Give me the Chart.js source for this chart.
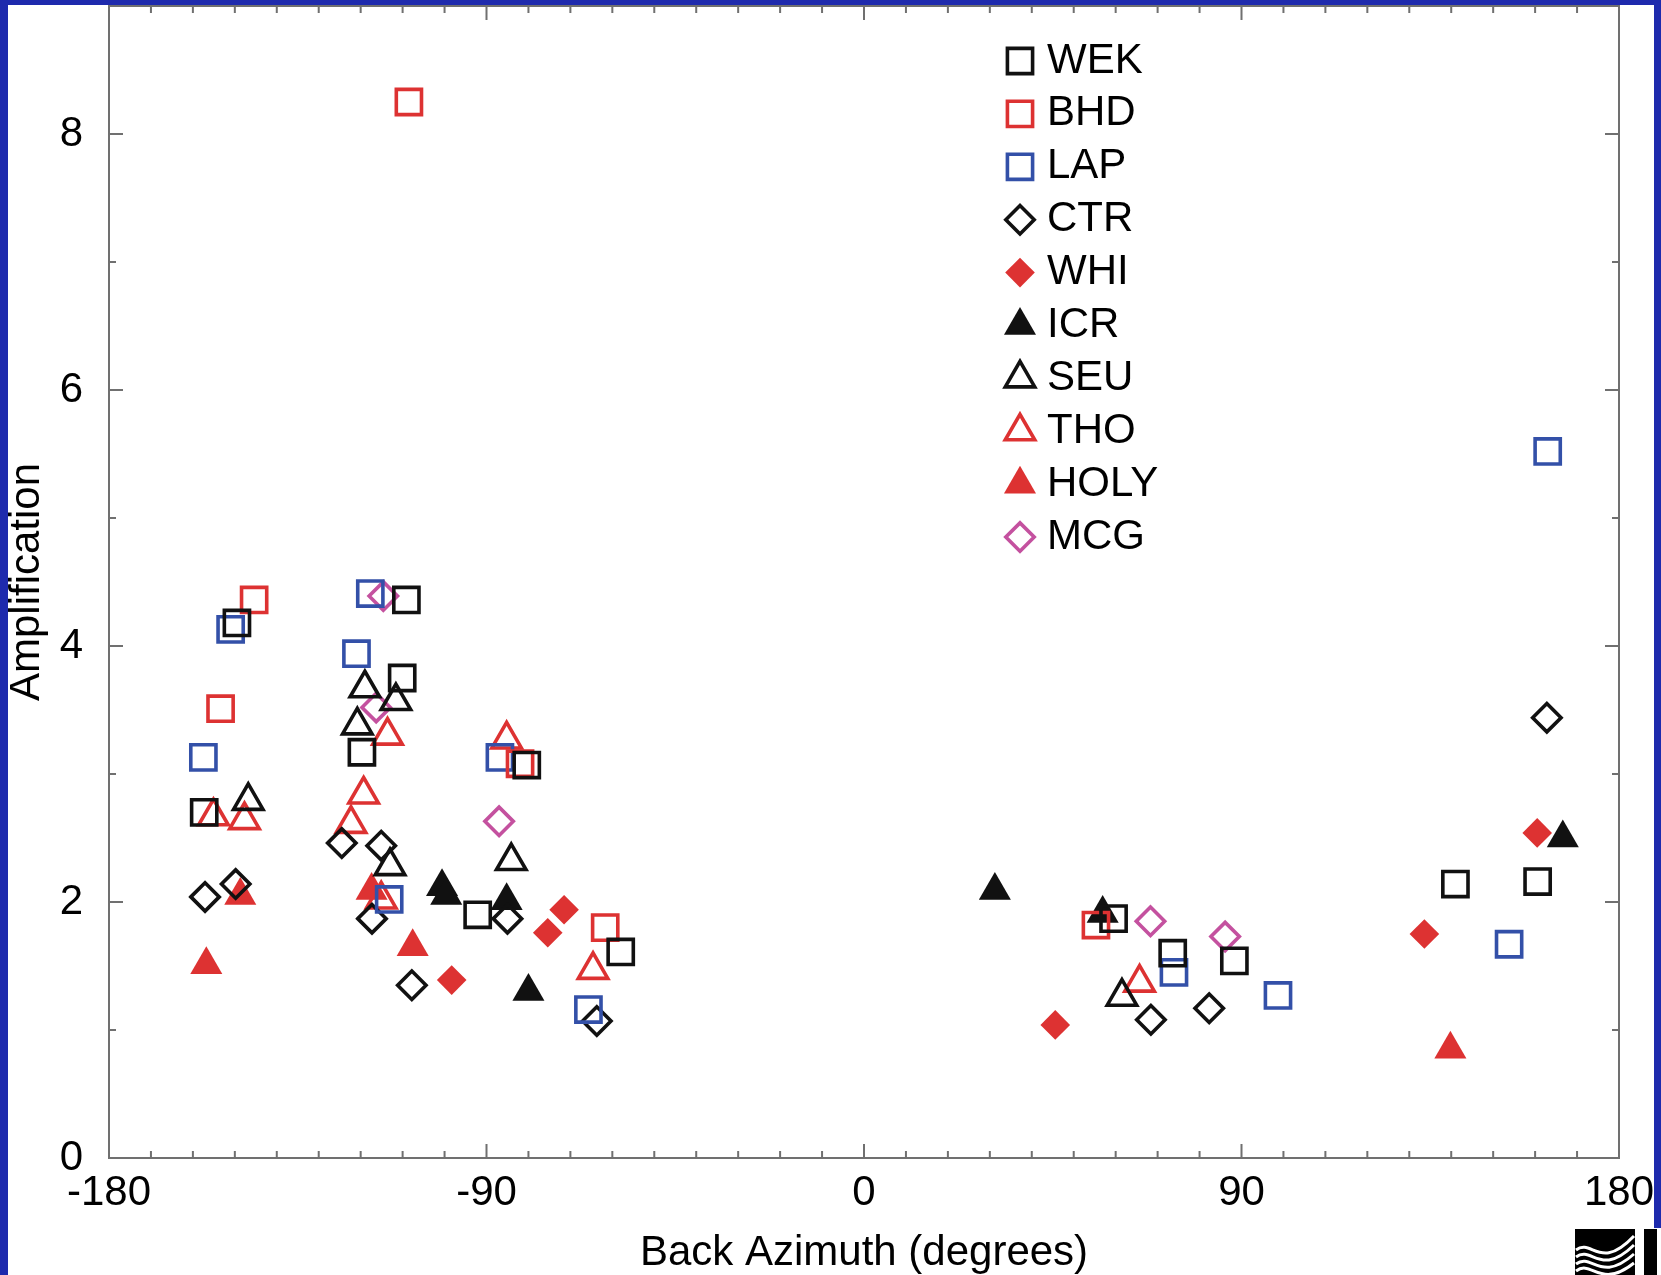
<!DOCTYPE html>
<html>
<head>
<meta charset="utf-8">
<title>Amplification vs Back Azimuth</title>
<script src="https://cdn.jsdelivr.net/npm/chart.js@4.4.1/dist/chart.umd.min.js"></script>
<style>
  html, body { margin: 0; padding: 0; background: #fff; }
  #wrap { width: 1661px; height: 1275px; position: relative; }
</style>
</head>
<body>
<div id="wrap"><canvas id="ampChart"></canvas></div>
<script>
// [back azimuth (deg), amplification] per station
const WEK = [[-157.3, 2.70], [-149.5, 4.18], [-119.7, 3.17], [-110.1, 3.75], [-109.1, 4.36],
  [-92.1, 1.90], [-80.4, 3.07], [-58.0, 1.61], [59.5, 1.87], [73.6, 1.60], [88.3, 1.54],
  [141.0, 2.14], [160.6, 2.16]];
const BHD = [[-153.4, 3.51], [-145.4, 4.36], [-108.5, 8.25], [-82.0, 3.08], [-61.7, 1.80], [55.3, 1.82]];
const LAP = [[-157.5, 3.13], [-151.0, 4.13], [-121.0, 3.94], [-117.7, 4.41], [-113.2, 2.02],
  [-86.8, 3.13], [-65.7, 1.16], [73.9, 1.45], [98.7, 1.27], [153.8, 1.67], [163.0, 5.52]];
const CTR = [[-157.1, 2.04], [-149.8, 2.14], [-124.5, 2.46], [-115.1, 2.44], [-117.3, 1.87],
  [-107.8, 1.35], [-85.0, 1.87], [-63.7, 1.07], [68.4, 1.08], [82.3, 1.17], [162.8, 3.44]];
const WHI = [[-98.3, 1.39], [-75.4, 1.76], [-71.5, 1.94], [45.6, 1.04], [133.6, 1.75], [160.5, 2.54]];
const ICR = [[-100.6, 2.12], [-99.6, 2.05], [-85.2, 2.01], [-80.0, 1.30], [31.2, 2.09], [56.9, 1.91], [166.6, 2.50]];
const SEU = [[-146.8, 2.79], [-119.0, 3.67], [-111.6, 3.57], [-120.8, 3.38], [-113.0, 2.28], [-84.1, 2.32], [61.5, 1.26]];
const THO = [[-155.1, 2.67], [-147.7, 2.64], [-119.3, 2.84], [-122.3, 2.61], [-113.6, 3.30],
  [-115.1, 2.02], [-85.2, 3.27], [-64.6, 1.47], [65.7, 1.37]];
const HOLY = [[-156.8, 1.51], [-148.7, 2.05], [-117.4, 2.09], [-107.6, 1.65], [139.8, 0.85]];
const MCG = [[-114.6, 4.39], [-116.3, 3.52], [-87.0, 2.63], [68.3, 1.85], [86.1, 1.73]];

const xTicks = [-180, -90, 0, 90, 180];
const yTicks = [0, 2, 4, 6, 8];

const BLACK = "#111111";
const RED = "#dd3232";
const BLUE = "#3350a8";
const PINK = "#c4519f";
const FONT = "'Liberation Sans', Arial, Helvetica, sans-serif";

const stations = [
  { label: "WEK", data: WEK, shape: "rect", color: BLACK, filled: false },
  { label: "BHD", data: BHD, shape: "rect", color: RED, filled: false },
  { label: "LAP", data: LAP, shape: "rect", color: BLUE, filled: false },
  { label: "CTR", data: CTR, shape: "rectRot", color: BLACK, filled: false },
  { label: "WHI", data: WHI, shape: "rectRot", color: RED, filled: true },
  { label: "ICR", data: ICR, shape: "triangle", color: BLACK, filled: true },
  { label: "SEU", data: SEU, shape: "triangle", color: BLACK, filled: false },
  { label: "THO", data: THO, shape: "triangle", color: RED, filled: false },
  { label: "HOLY", data: HOLY, shape: "triangle", color: RED, filled: true },
  { label: "MCG", data: MCG, shape: "rectRot", color: PINK, filled: false },
];

function markerRadius(s) {
  if (s.shape === "rect") return 17.8;
  if (s.shape === "rectRot") return s.filled ? 14.8 : 14.2;
  return s.filled ? 18.5 : 17;
}

const datasets = stations.map((s) => ({
  label: s.label,
  data: s.data.map((p) => ({ x: p[0], y: p[1] })),
  showLine: false,
  pointStyle: s.shape,
  pointRadius: markerRadius(s),
  pointHoverRadius: markerRadius(s),
  pointBorderWidth: s.filled ? 0 : 3.6,
  pointHoverBorderWidth: s.filled ? 0 : 3.6,
  pointBorderColor: s.color,
  pointBackgroundColor: s.filled ? s.color : "rgba(0,0,0,0)",
}));

// white page with the blue slide border, plus the logo in the corner
const pagePlugin = {
  id: "page",
  beforeDraw(chart) {
    const ctx = chart.ctx;
    ctx.save();
    ctx.fillStyle = "#ffffff";
    ctx.fillRect(0, 0, chart.width, chart.height);
    ctx.fillStyle = "#1e2aad";
    ctx.fillRect(0, 0, 8, chart.height);
    ctx.fillRect(0, 0, chart.width, 5);
    ctx.fillRect(1654, 0, 7, 1228);
    ctx.restore();
  },
  afterDraw(chart) {
    const ctx = chart.ctx;
    ctx.save();
    ctx.fillStyle = "#000";
    ctx.fillRect(1575, 1229, 60, 46);
    ctx.fillRect(1644, 1229, 13, 46);
    ctx.strokeStyle = "#fff";
    ctx.lineWidth = 3;
    for (let k = 0; k < 4; k++) {
      ctx.beginPath();
      ctx.moveTo(1576, 1250 + k * 7);
      ctx.bezierCurveTo(1592, 1238 + k * 7, 1600, 1272 + k * 6, 1634, 1236 + k * 9);
      ctx.stroke();
    }
    ctx.restore();
  },
};

// boxed frame with inward ticks on all four sides
const framePlugin = {
  id: "frame",
  afterDatasetsDraw(chart) {
    const { ctx, chartArea: a, scales } = chart;
    const xs = scales.x, ys = scales.y;
    ctx.save();
    ctx.strokeStyle = "#707070";
    ctx.lineWidth = 2;
    ctx.strokeRect(a.left, a.top, a.right - a.left, a.bottom - a.top);
    ctx.beginPath();
    for (let v = -170; v < 180; v += 10) {
      const len = v % 90 === 0 ? 14 : 7;
      const px = xs.getPixelForValue(v);
      ctx.moveTo(px, a.bottom); ctx.lineTo(px, a.bottom - len);
      ctx.moveTo(px, a.top); ctx.lineTo(px, a.top + len);
    }
    for (let v = 1; v <= 8; v++) {
      const len = v % 2 === 0 ? 14 : 7;
      const py = ys.getPixelForValue(v);
      ctx.moveTo(a.left, py); ctx.lineTo(a.left + len, py);
      ctx.moveTo(a.right, py); ctx.lineTo(a.right - len, py);
    }
    ctx.stroke();
    ctx.restore();
  },
};

// legend inside the plot, one row per station
const legendPlugin = {
  id: "stationLegend",
  afterDraw(chart) {
    const ctx = chart.ctx;
    const mx = 1020, tx = 1047, y0 = 61, dy = 52.9;
    ctx.save();
    ctx.font = "42px " + FONT;
    ctx.textBaseline = "middle";
    ctx.textAlign = "left";
    chart.data.datasets.forEach((ds, i) => {
      const y = y0 + i * dy;
      ctx.fillStyle = ds.pointBackgroundColor;
      ctx.strokeStyle = ds.pointBorderColor;
      ctx.lineWidth = ds.pointBorderWidth;
      Chart.helpers.drawPoint(ctx, {
        pointStyle: ds.pointStyle,
        radius: ds.pointRadius,
        rotation: 0,
        borderWidth: ds.pointBorderWidth,
      }, mx, y);
      ctx.fillStyle = "#000";
      ctx.fillText(ds.label, tx, y);
    });
    ctx.restore();
  },
};

new Chart(document.getElementById("ampChart"), {
  type: "scatter",
  data: { datasets },
  plugins: [pagePlugin, framePlugin, legendPlugin],
  options: {
    responsive: true,
    maintainAspectRatio: false,
    animation: false,
    layout: { autoPadding: false, padding: { left: 0, right: 42, top: 6, bottom: 0 } },
    plugins: { legend: { display: false }, tooltip: { enabled: false } },
    scales: {
      x: {
        type: "linear",
        min: -180,
        max: 180,
        grid: { display: false, drawTicks: false },
        border: { display: false },
        afterBuildTicks: (s) => { s.ticks = xTicks.map((v) => ({ value: v })); },
        ticks: { padding: 10, color: "#000", font: { family: FONT, size: 42 } },
        title: {
          display: true,
          text: "Back Azimuth (degrees)",
          color: "#000",
          font: { family: FONT, size: 42, lineHeight: 1.0 },
          padding: { top: 0, bottom: 1 },
        },
        afterFit: (s) => { s.height = 117; s.paddingLeft = 0; s.paddingRight = 0; },
      },
      y: {
        type: "linear",
        min: 0,
        max: 9,
        grid: { display: false, drawTicks: false },
        border: { display: false },
        afterBuildTicks: (s) => { s.ticks = yTicks.map((v) => ({ value: v })); },
        ticks: { padding: 26, color: "#000", font: { family: FONT, size: 42 } },
        title: {
          display: true,
          text: "Amplification",
          color: "#000",
          font: { family: FONT, size: 42, lineHeight: 1.0 },
          padding: { top: 6.5, bottom: 0 },
        },
        afterFit: (s) => { s.width = 109; s.paddingTop = 0; s.paddingBottom = 0; },
      },
    },
  },
});
</script>
</body>
</html>
